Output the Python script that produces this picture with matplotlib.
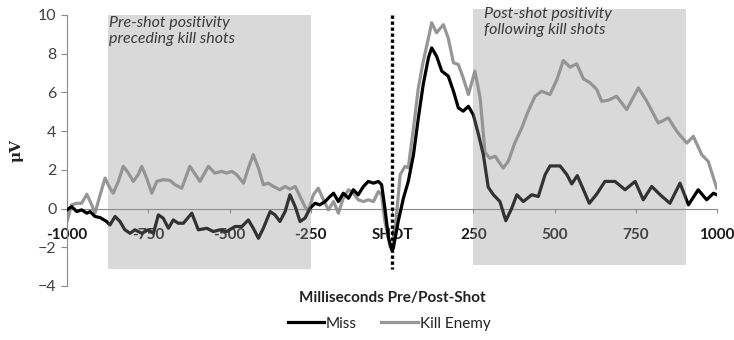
import matplotlib
matplotlib.use("Agg")
import matplotlib.pyplot as plt

plt.rcParams['font.family'] = ['Lato', 'DejaVu Sans']

# ERP traces, time in ms relative to the shot, amplitude in microvolts
miss_ms = [-1000, -986, -970, -955, -939, -929, -914, -898, -878, -868, -852, -837,
           -822, -806, -791, -770, -750, -734, -719, -704, -688, -673, -658, -642,
           -616, -596, -570, -550, -529, -509, -483, -462, -442, -427, -411, -396,
           -375, -360, -345, -329, -314, -298, -283, -268, -252, -237, -222, -206,
           -191, -180, -165, -150, -134, -119, -104, -88, -73, -57, -42, -32, -22,
           -11, -1, 4, 19, 35, 50, 66, 81, 96, 112, 122, 137, 153, 173, 189, 204,
           219, 235, 250, 266, 281, 296, 312, 332, 350, 368, 384, 404, 430, 450,
           471, 486, 517, 538, 553, 570, 589, 607, 630, 655, 686, 717, 748, 773,
           799, 825, 855, 886, 912, 942, 968, 989, 999]
miss_uv = [-0.07, 0.10, -0.16, -0.07, -0.24, -0.16, -0.41, -0.47, -0.67, -0.85, -0.41, -0.67,
           -1.10, -1.28, -1.10, -1.28, -1.10, -1.28, -0.33, -0.50, -1.02, -0.59, -0.76, -0.76,
           -0.24, -1.10, -1.02, -1.19, -1.10, -1.19, -0.93, -0.93, -0.59, -1.02, -1.54, -1.02,
           -0.16, -0.33, -0.67, -0.16, 0.71, 0.10, -0.67, -0.50, 0.02, 0.27, 0.19, 0.36,
           0.62, 0.79, 0.36, 0.79, 0.53, 0.97, 0.71, 1.14, 1.40, 1.31, 1.40, 1.23, 0.02,
           -1.50, -2.14, -2.05, -0.67, 0.53, 1.40, 2.78, 4.68, 6.41, 7.79, 8.30, 7.87, 7.10, 6.84, 6.06, 5.20,
           5.03, 5.28, 4.85, 3.82, 2.78, 1.10, 0.71, 0.36, -0.63, 0.00, 0.71, 0.36, 0.71, 0.62,
           1.75, 2.20, 2.20, 1.75, 1.27, 1.70, 0.97, 0.27, 0.75, 1.40, 1.40, 0.97, 1.40, 0.45,
           1.14, 0.71, 0.27, 1.31, 0.19, 0.97, 0.45, 0.79, 0.71]

kill_ms = [-1000, -986, -970, -955, -939, -924, -914, -898, -883, -868, -858, -842,
           -827, -811, -796, -781, -770, -755, -739, -724, -704, -683, -668, -647,
           -622, -591, -565, -545, -524, -509, -493, -478, -457, -442, -427, -411,
           -396, -381, -365, -345, -329, -314, -298, -283, -268, -258, -242, -227,
           -211, -196, -180, -165, -150, -134, -119, -104, -88, -73, -57, -42, -32,
           -22, -11, -6, 4, 14, 25, 40, 50, 66, 81, 96, 112, 122, 137, 158, 173,
           189, 204, 219, 235, 255, 271, 286, 301, 317, 342, 358, 378, 399, 419,
           440, 460, 486, 507, 527, 548, 568, 589, 609, 630, 645, 666, 691, 722,
           758, 784, 819, 850, 876, 907, 927, 953, 973, 999]
kill_uv = [-0.67, 0.19, 0.27, 0.27, 0.74, 0.19, -0.24, 0.71, 1.57, 1.05, 0.79, 1.40,
           2.18, 1.83, 1.40, 1.75, 2.18, 1.57, 0.79, 1.40, 1.49, 1.45, 1.23, 1.05,
           2.18, 1.40, 2.18, 1.83, 1.92, 1.83, 1.92, 1.75, 1.31, 2.09, 2.78, 2.09,
           1.23, 1.31, 1.14, 0.97, 1.14, 1.00, 1.14, 0.62, 0.10, -0.16, 0.71, 1.05,
           0.45, -0.07, 0.36, -0.24, 0.53, 0.97, 0.79, 0.45, 0.36, 0.45, 0.36, 0.88, 0.71,
           -0.67, -1.54, -1.97, -1.88, -0.30, 1.74, 2.18, 2.10, 4.16, 6.23, 7.60, 8.80, 9.60, 9.08, 9.50, 8.80,
           7.53, 7.44, 6.75, 5.89, 7.10, 5.72, 2.90, 2.60, 2.70, 2.09, 2.45, 3.40, 4.16, 5.03,
           5.80, 6.06, 5.89, 6.65, 7.65, 7.30, 7.48, 6.70, 6.50, 6.15, 5.54, 5.60, 5.80, 5.11,
           6.23, 5.54, 4.42, 4.68, 3.99, 3.38, 3.73, 2.78, 2.43, 1.05]

tick_ms = [-1000, -750, -500, -250, 0, 250, 500, 750, 1000]
tick_names = ['-1000', '-750', '-500', '-250', 'SHOT', '250', '500', '750', '1000']

# highlighted windows (ms range, amplitude range)
pre_win = (-875, -250, -3.15, 10.0)
post_win = (250, 905, -2.9, 10.3)

fig = plt.figure(figsize=(7.34, 3.4), dpi=100)
ax = fig.add_axes([0.0913, 0.159, 0.8856, 0.797])

ax.plot(miss_ms, miss_uv, color='black', lw=2.3, solid_joinstyle='round', zorder=3, label='Miss')
ax.plot(kill_ms, kill_uv, color='#969696', lw=2.3, solid_joinstyle='round', zorder=2, label='Kill Enemy')

for x0, x1, y0, y1 in (pre_win, post_win):
    ax.add_patch(plt.Rectangle((x0, y0), x1 - x0, y1 - y0, facecolor='#929292',
                               edgecolor='none', alpha=0.35, zorder=5, clip_on=False))

ax.plot([0, 0], [10.0, -3.15], color='black', lw=2.4, ls=(0, (1, 0.8)), zorder=6, clip_on=False)

ax.text(-872, 9.95, 'Pre-shot positivity\npreceding kill shots', style='italic',
        fontsize=11.5, color='#3a3a3a', va='top', ha='left', linespacing=1.2, zorder=7)
ax.text(283, 10.4, 'Post-shot positivity\nfollowing kill shots', style='italic',
        fontsize=11.5, color='#3a3a3a', va='top', ha='left', linespacing=1.2, zorder=7)

ax.set_xlim(-1000, 1000)
ax.set_ylim(-4, 10)
ax.set_yticks(range(-4, 11, 2))
ax.set_xticks(tick_ms)
ax.set_xticklabels(tick_names)

for s in ('top', 'right'):
    ax.spines[s].set_visible(False)
ax.spines['bottom'].set_position(('data', 0))
ax.spines['bottom'].set_color('#8a8a8a')
ax.spines['left'].set_color('#8a8a8a')
ax.tick_params(axis='y', colors='#8a8a8a', labelcolor='#404040', labelsize=11.5, length=4)
ax.tick_params(axis='x', colors='#8a8a8a', labelcolor='#1a1a1a', labelsize=11, length=3, pad=11)
for lbl in ax.get_xticklabels():
    lbl.set_fontweight('bold')

ax.set_ylabel('μV', family='DejaVu Serif', fontweight='bold', fontsize=11, color='#222222', labelpad=10)
fig.text(0.534, 0.123, 'Milliseconds Pre/Post-Shot', ha='center', va='center',
         fontweight='bold', fontsize=11, color='#222222')

fig.legend(loc='center', bbox_to_anchor=(0.53, 0.048), ncol=2, frameon=False,
           fontsize=11, handlelength=2.4, columnspacing=1.6, handletextpad=0.1,
           labelcolor='#222222')

fig.savefig('out.png', dpi=100)
